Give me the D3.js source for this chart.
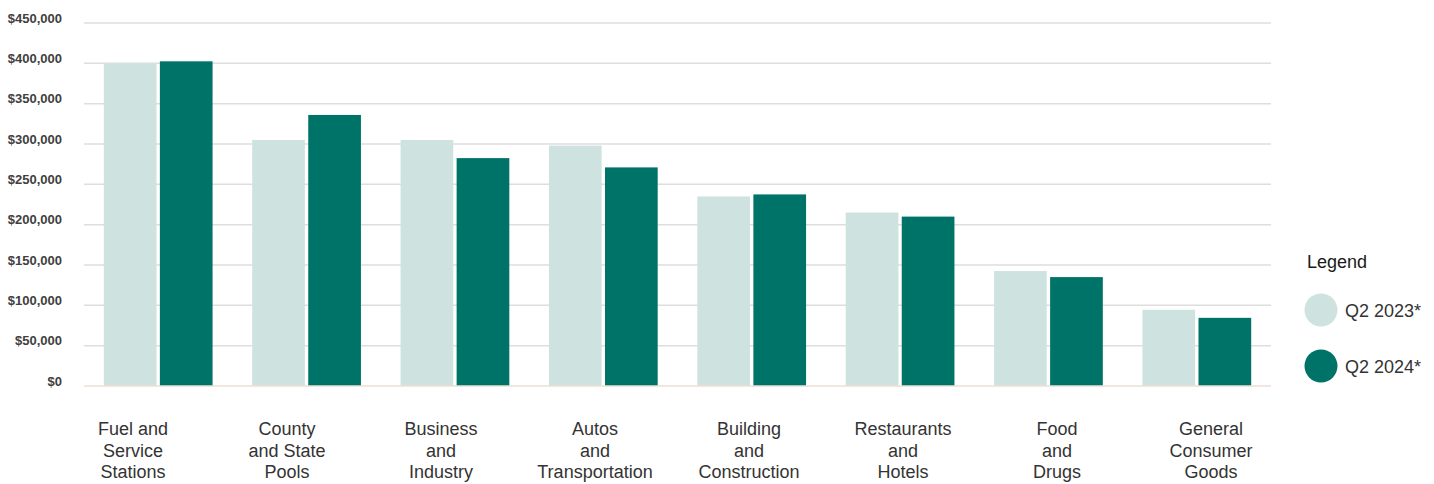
<!DOCTYPE html>
<html>
<head>
<meta charset="utf-8">
<script src="https://cdn.jsdelivr.net/npm/d3@7"></script>
<style>
  html, body { margin: 0; padding: 0; background: #fff; }
  svg { display: block; font-family: "Liberation Sans", Arial, sans-serif; }
</style>
</head>
<body>
<svg id="chart" width="1434" height="484"></svg>
<script>
const categories = [
  ["Fuel and", "Service", "Stations"],
  ["County", "and State", "Pools"],
  ["Business", "and", "Industry"],
  ["Autos", "and", "Transportation"],
  ["Building", "and", "Construction"],
  ["Restaurants", "and", "Hotels"],
  ["Food", "and", "Drugs"],
  ["General", "Consumer", "Goods"]
];
const seriesNames = ["Q2 2023*", "Q2 2024*"];
const q2_2023 = [400000, 305000, 305000, 298000, 235000, 215000, 142500, 94500];
const q2_2024 = [402500, 336000, 282500, 271000, 237500, 210000, 135000, 84500];
const yTicks = [0, 50000, 100000, 150000, 200000, 250000, 300000, 350000, 400000, 450000];
const colors = ["#cee3e0", "#007368"];

const svg = d3.select("#chart");
const plotLeft = 84, plotRight = 1271, plotTop = 23, plotBottom = 386;

const x0 = d3.scaleBand().domain(d3.range(categories.length)).range([plotLeft, plotRight])
  .paddingInner(0.267).paddingOuter(0.1335);
const x1 = d3.scaleBand().domain([0, 1]).range([0, x0.bandwidth()]).paddingInner(0.06);
const y = d3.scaleLinear().domain([0, 450000]).range([plotBottom, plotTop]);
// category labels are laid out on their own, slightly wider, row
const xLabel = d3.scalePoint().domain(d3.range(categories.length)).range([133, 1211]);

// gridlines
svg.append("g").selectAll("line").data(yTicks.filter(d => d > 0)).join("line")
  .attr("x1", plotLeft).attr("x2", plotRight)
  .attr("y1", d => y(d)).attr("y2", d => y(d))
  .attr("stroke", "#dedede").attr("stroke-width", 1.5);

// y labels
const fmt = d3.format("$,");
svg.append("g").selectAll("text").data(yTicks).join("text")
  .attr("x", 62).attr("y", d => y(d) - 0.5)
  .attr("text-anchor", "end")
  .attr("font-size", 13).attr("font-weight", "bold").attr("fill", "#404040")
  .text(d => fmt(d));

// bars
const series = [q2_2023, q2_2024];
const groups = svg.append("g").selectAll("g").data(categories.map((c, i) => i)).join("g")
  .attr("transform", i => `translate(${x0(i)},0)`);
groups.selectAll("rect").data(i => series.map((s, k) => ({k, v: s[i]}))).join("rect")
  .attr("x", d => x1(d.k)).attr("width", x1.bandwidth())
  .attr("y", d => y(d.v)).attr("height", d => y(0) - y(d.v))
  .attr("fill", d => colors[d.k]);

// baseline
svg.append("line").attr("x1", plotLeft).attr("x2", plotRight)
  .attr("y1", y(0)).attr("y2", y(0))
  .attr("stroke", "#eedfd4").attr("stroke-width", 1.5);

// category labels
const labels = svg.append("g").selectAll("text").data(categories).join("text")
  .attr("x", (d, i) => xLabel(i))
  .attr("y", 435)
  .attr("text-anchor", "middle").attr("font-size", 18).attr("fill", "#333");
labels.selectAll("tspan").data(d => d).join("tspan")
  .attr("x", function() { return this.parentNode.getAttribute("x"); })
  .attr("dy", (d, j) => j === 0 ? 0 : 21.7)
  .text(d => d);

// legend
const lg = svg.append("g");
lg.append("text").attr("x", 1307).attr("y", 268).attr("font-size", 18).attr("fill", "#1a1a1a").text("Legend");
const items = lg.selectAll("g").data(seriesNames).join("g")
  .attr("transform", (d, i) => `translate(0,${310 + i * 56})`);
items.append("circle").attr("cx", 1321).attr("cy", 0).attr("r", 16.5).attr("fill", (d, i) => colors[i]);
items.append("text").attr("x", 1345).attr("y", 6.5).attr("font-size", 18).attr("fill", "#333").text(d => d);
</script>
</body>
</html>
